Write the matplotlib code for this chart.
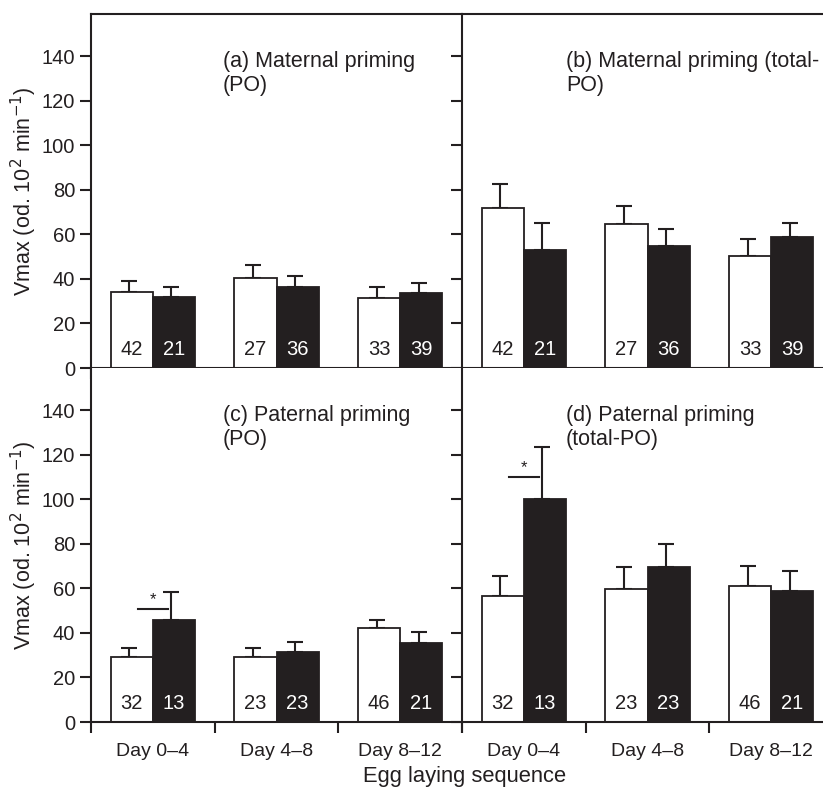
import matplotlib
matplotlib.use("Agg")
import matplotlib.pyplot as plt
import numpy as np

plt.rcParams['font.family'] = ['Liberation Sans', 'DejaVu Sans']

groups = ["Day 0\u20134", "Day 4\u20138", "Day 8\u201312"]
titles = ["(a) Maternal priming\n(PO)", "(b) Maternal priming (total-\nPO)",
          "(c) Paternal priming\n(PO)", "(d) Paternal priming\n(total-PO)"]

# white (control) and black (primed) means and upper error values
white_a = [34, 40.4, 31.6]; white_a_err = [39, 46.1, 36.4]
black_a = [32, 36.3, 33.6]; black_a_err = [36.4, 41.2, 38.0]
white_b = [71.9, 64.7, 50.5]; white_b_err = [82.7, 72.6, 57.8]
black_b = [53.0, 55.0, 58.7]; black_b_err = [65.1, 62.6, 65.1]
white_c = [29.1, 29.1, 42.0]; white_c_err = [33.3, 33.3, 45.8]
black_c = [45.8, 31.3, 35.5]; black_c_err = [58.4, 35.8, 40.6]
white_d = [56.8, 59.6, 61.0]; white_d_err = [65.5, 69.5, 69.9]
black_d = [100, 69.8, 59.0]; black_d_err = [123.3, 79.8, 67.7]

n_maternal_white = [42, 27, 33]; n_maternal_black = [21, 36, 39]
n_paternal_white = [32, 23, 46]; n_paternal_black = [13, 23, 21]

# significance markers (y level) for the first group
sig_c_y = 50.8
sig_d_y = 109.9

panels = [
    (white_a, white_a_err, black_a, black_a_err, n_maternal_white, n_maternal_black, None),
    (white_b, white_b_err, black_b, black_b_err, n_maternal_white, n_maternal_black, None),
    (white_c, white_c_err, black_c, black_c_err, n_paternal_white, n_paternal_black, sig_c_y),
    (white_d, white_d_err, black_d, black_d_err, n_paternal_white, n_paternal_black, sig_d_y),
]

W, H = 823, 789
fig = plt.figure(figsize=(W / 100, H / 100), dpi=100)

x_left = 91 / W
x_mid = 462 / W
x_right = 833 / W
y_top = 1 - 14 / H
y_mid = 1 - 368 / H
y_bot = 1 - 722 / H

positions = [
    [x_left, y_mid, x_mid - x_left, y_top - y_mid],
    [x_mid, y_mid, x_right - x_mid, y_top - y_mid],
    [x_left, y_bot, x_mid - x_left, y_mid - y_bot],
    [x_mid, y_bot, x_right - x_mid, y_mid - y_bot],
]

black_col = "#231f20"
lw = 1.5
bw = 0.34
centers = np.arange(3) + 0.5
title_x = [1.065, 0.84, 1.065, 0.84]

for i, (pos, data) in enumerate(zip(positions, panels)):
    wv, we, bv, be, nw, nb, sig = data
    ax = fig.add_axes(pos)
    ax.set_xlim(0, 3)
    ax.set_ylim(0, 159)
    ax.bar(centers - bw / 2, wv, width=bw, color="white", edgecolor=black_col,
           linewidth=1.3, zorder=2)
    ax.bar(centers + bw / 2, bv, width=bw, color=black_col, edgecolor=black_col,
           linewidth=1.3, zorder=2)
    ax.errorbar(centers - bw / 2 - 0.02, wv,
                yerr=[np.zeros(3), np.array(we) - np.array(wv)],
                fmt='none', ecolor=black_col, elinewidth=1.5, capsize=6,
                capthick=1.5, zorder=1)
    ax.errorbar(centers + bw / 2 - 0.02, bv,
                yerr=[np.zeros(3), np.array(be) - np.array(bv)],
                fmt='none', ecolor=black_col, elinewidth=1.5, capsize=6,
                capthick=1.5, zorder=1)
    for c, a, b in zip(centers, nw, nb):
        ax.text(c - bw / 2, 8.5, str(a), ha='center', va='center',
                fontsize=14.5, color=black_col, zorder=3)
        ax.text(c + bw / 2, 8.5, str(b), ha='center', va='center',
                fontsize=14.5, color='white', zorder=3)
    if sig is not None:
        ax.plot([centers[0] - 0.12, centers[0] + 0.12], [sig, sig],
                color=black_col, lw=1.5, zorder=3)
        ax.text(centers[0], sig + 0.8, "*", ha='center', va='bottom',
                fontsize=12, color=black_col)
    ax.text(title_x[i], 142.5, titles[i], ha='left', va='top', fontsize=15.5,
            linespacing=1.2, color=black_col)

    ax.set_xticks([0, 1, 2, 3])
    ax.set_xticklabels([])
    ax.set_yticks(np.arange(0, 141, 20))
    ax.tick_params(axis='both', direction='out', length=8, width=lw,
                   colors=black_col, labelsize=14.5, pad=3.5)
    ax.spines['right'].set_visible(False)
    for s in ['left', 'bottom', 'top']:
        ax.spines[s].set_linewidth(lw)
        ax.spines[s].set_color(black_col)
    if i >= 2:
        ax.spines['top'].set_visible(False)
        ax.set_xticks(centers, minor=True)
        ax.set_xticklabels(groups, minor=True)
        ax.tick_params(axis='x', which='minor', length=0, labelsize=14,
                       pad=15, colors=black_col)
    if i % 2 == 1:
        ax.set_yticklabels([])
    else:
        ax.set_ylabel("Vmax (od. 10$^2$ min$^{-1}$)", fontsize=15.5,
                      color=black_col, labelpad=1.5)

fig.text(465 / W, 2 / H, "Egg laying sequence", ha='center', va='bottom',
         fontsize=15.8, color=black_col)

fig.savefig("out.png", dpi=100)
